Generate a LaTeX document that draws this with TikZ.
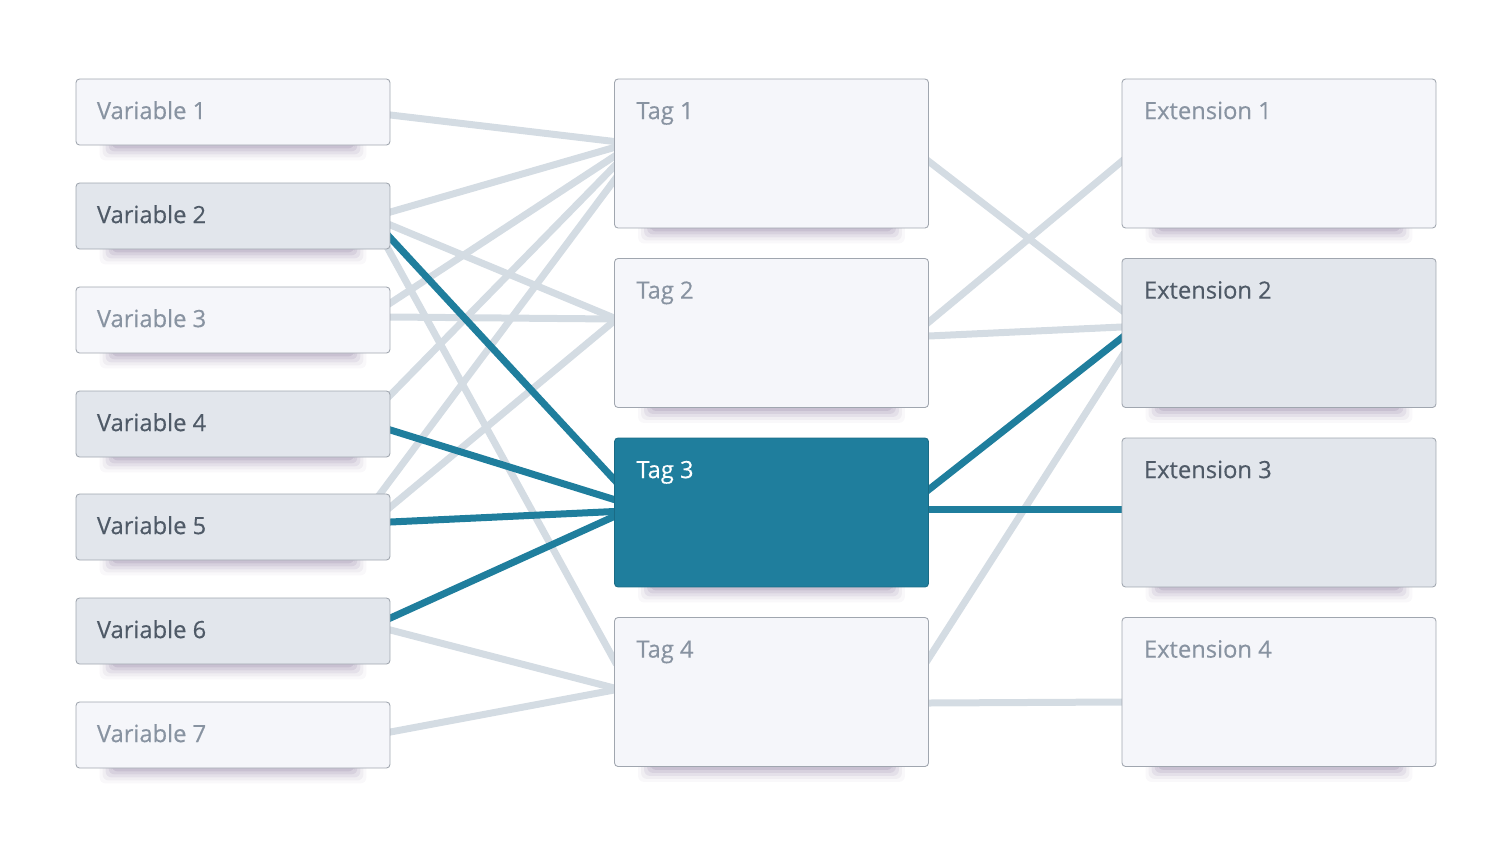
\documentclass[tikz,border=0pt]{standalone}
\usepackage{fontspec}
\setmainfont{Open Sans}
\newfontfamily\capfont{Open Sans}[FakeBold=0.35]
\usetikzlibrary{calc,backgrounds}

\definecolor{paleFill}{HTML}{F5F6FA}
\definecolor{greyFill}{HTML}{E2E6EC}
\definecolor{boxLine}{HTML}{A0A6AF}
\definecolor{paleText}{HTML}{8893A1}
\definecolor{darkText}{HTML}{4F5A67}
\definecolor{tagBlue}{HTML}{1F7E9D}
\definecolor{linkGrey}{HTML}{D4DCE3}
\definecolor{shadowTint}{HTML}{86749A}

\begin{document}
\begin{tikzpicture}[x=0.02cm, y=-0.02cm]

      \tikzset{card/.style={draw=boxLine, line width=0.5pt, rounded corners=0.07cm, inner sep=0pt, minimum width=6.28cm},
               varcard/.style={card, minimum height=1.32cm},
               bigcard/.style={card, minimum height=2.98cm},
               caption/.style={anchor=base west, inner sep=0pt, font=\capfont\fontsize{13.5pt}{16pt}\selectfont},
               weak/.style={draw=linkGrey, line width=0.14cm, shorten <=-0.1cm, shorten >=-0.1cm},
               strong/.style={draw=tagBlue, line width=0.14cm, shorten <=-0.1cm, shorten >=-0.1cm}}
      \useasboundingbox (0,0) rectangle (1512,846);
% Variables
      	\node[varcard, fill=paleFill] (v1) at (233,112) {};
      	\node[varcard, fill=greyFill] (v2) at (233,216) {};
      	\node[varcard, fill=paleFill] (v3) at (233,320) {};
      	\node[varcard, fill=greyFill] (v4) at (233,424) {};
      	\node[varcard, fill=greyFill] (v5) at (233,527) {};
      	\node[varcard, fill=greyFill] (v6) at (233,631) {};
      	\node[varcard, fill=paleFill] (v7) at (233,735) {};
% Tags
      	\node[bigcard, fill=paleFill] (t1) at (771.5,153.5) {};
      	\node[bigcard, fill=paleFill] (t2) at (771.5,333) {};
      	\node[bigcard, fill=tagBlue, draw=tagBlue!85!black] (t3) at (771.5,512.5) {};
      	\node[bigcard, fill=paleFill] (t4) at (771.5,692) {};
% Extensions
      	\node[bigcard, fill=paleFill] (e1) at (1279,153.5) {};
      	\node[bigcard, fill=greyFill] (e2) at (1279,333) {};
      	\node[bigcard, fill=greyFill] (e3) at (1279,512.5) {};
      	\node[bigcard, fill=paleFill] (e4) at (1279,692) {};
% Captions
		\node[caption, paleText] (v1t) at ($(v1.north west)+(21,40.5)$) {Variable 1};
		\node[caption, darkText] (v2t) at ($(v2.north west)+(21,40.5)$) {Variable 2};
		\node[caption, paleText] (v3t) at ($(v3.north west)+(21,40.5)$) {Variable 3};
		\node[caption, darkText] (v4t) at ($(v4.north west)+(21,40.5)$) {Variable 4};
		\node[caption, darkText] (v5t) at ($(v5.north west)+(21,40.5)$) {Variable 5};
		\node[caption, darkText] (v6t) at ($(v6.north west)+(21,40.5)$) {Variable 6};
		\node[caption, paleText] (v7t) at ($(v7.north west)+(21,40.5)$) {Variable 7};
		\node[caption, paleText] (t1t) at ($(t1.north west)+(22,40.5)$) {Tag 1};
		\node[caption, paleText] (t2t) at ($(t2.north west)+(22,40.5)$) {Tag 2};
		\node[caption, white] (t3t) at ($(t3.north west)+(22,40.5)$) {Tag 3};
		\node[caption, paleText] (t4t) at ($(t4.north west)+(22,40.5)$) {Tag 4};
		\node[caption, paleText] (e1t) at ($(e1.north west)+(22,40.5)$) {Extension 1};
		\node[caption, darkText] (e2t) at ($(e2.north west)+(22,40.5)$) {Extension 2};
		\node[caption, darkText] (e3t) at ($(e3.north west)+(22,40.5)$) {Extension 3};
		\node[caption, paleText] (e4t) at ($(e4.north west)+(22,40.5)$) {Extension 4};
% Shadows
      \begin{scope}[on background layer]
		\foreach \n in {v1,v2,v3,v4,v5,v6,v7,t1,t2,t3,t4,e1,e2,e3,e4}
		  \foreach \g/\o in {12/0.05,9/0.08,6/0.11,3/0.14,0/0.18}
		    \fill[shadowTint, opacity=\o, rounded corners=0.12cm] ($(\n.south west)+(36-\g,-4-\g)$) rectangle ($(\n.south east)+(-36+\g,3+\g)$);
      \end{scope}
%Edges
      \begin{scope}[on background layer]
		\draw[weak] ($(v1.east)+(0,3)$) -- ($(t1.west)+(0,-12)$);
		\draw[weak] ($(v2.east)+(0,-4)$) -- ($(t1.west)+(0,-6)$);
		\draw[weak] ($(v2.east)+(0,9)$) -- ($(t2.west)+(0,-15)$);
		\draw[weak] ($(v2.south east)+(-2,0)$) -- ($(t4.west)+(0,-32)$);
		\draw[weak] ($(v3.east)+(0,-17)$) -- ($(t1.west)+(0,3)$);
		\draw[weak] ($(v3.east)+(0,-3)$) -- ($(t2.west)+(0,-14)$);
		\draw[weak] ($(v4.east)+(0,-29)$) -- ($(t1.west)+(0,13)$);
		\draw[weak] ($(v5.north east)+(-10,0)$) -- ($(t1.west)+(0,27)$);
		\draw[weak] ($(v5.east)+(0,-20)$) -- ($(t2.west)+(0,-12)$);
		\draw[weak] ($(v6.east)+(0,-1)$) -- ($(t4.west)+(0,-4)$);
		\draw[weak] ($(v7.east)+(0,-3)$) -- ($(t4.west)+(0,-2)$);
		\draw[weak] ($(t1.east)+(0,8)$) -- ($(e2.west)+(0,-23)$);
		\draw[weak] ($(t2.east)+(0,-11)$) -- ($(e1.west)+(0,8)$);
		\draw[weak] ($(t2.east)+(0,3)$) -- ($(e2.west)+(0,-6)$);
		\draw[weak] ($(t4.east)+(0,-34)$) -- ($(e2.west)+(0,24)$);
		\draw[weak] ($(t4.east)+(0,11)$) -- ($(e4.west)+(0,10)$);
		\draw[strong] ($(v2.east)+(0,22)$) -- ($(t3.west)+(0,-33)$);
		\draw[strong] ($(v4.east)+(0,6)$) -- ($(t3.west)+(0,-13)$);
		\draw[strong] ($(v5.east)+(0,-5)$) -- ($(t3.west)+(0,-1)$);
		\draw[strong] ($(v6.east)+(0,-13)$) -- ($(t3.west)+(0,4)$);
		\draw[strong] ($(t3.east)+(0,-23)$) -- ($(e2.west)+(0,5)$);
		\draw[strong] ($(t3.east)+(0,-3)$) -- ($(e3.west)+(0,-3)$);
      \end{scope}

\end{tikzpicture}
\end{document}
